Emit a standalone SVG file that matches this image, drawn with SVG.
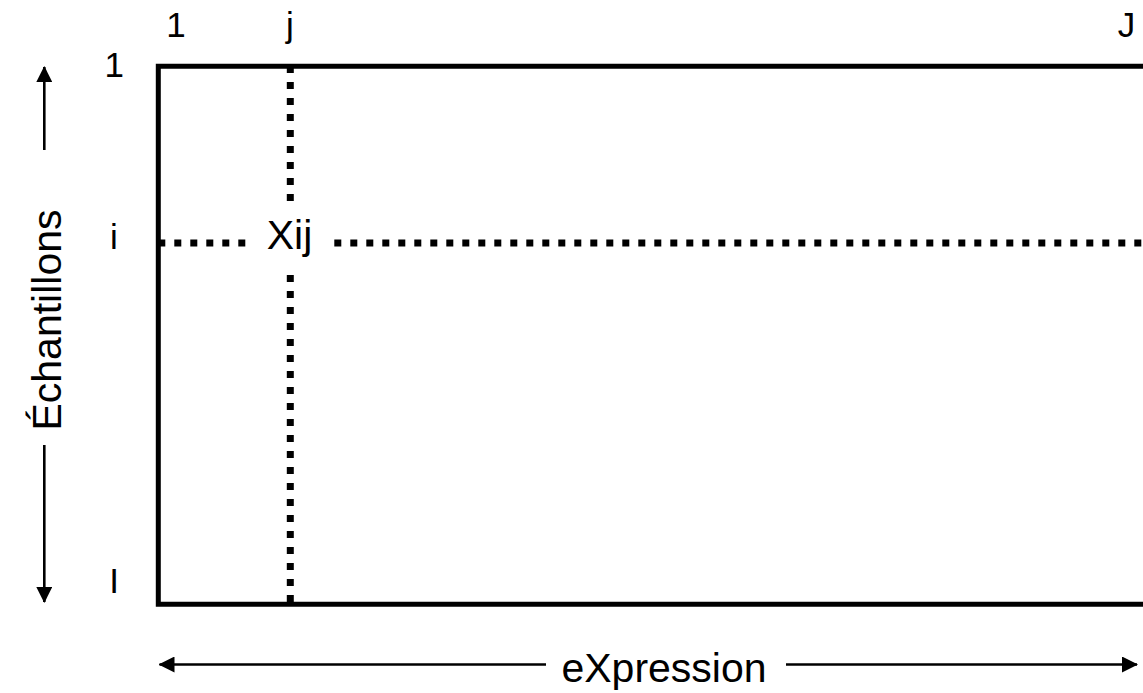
<svg xmlns="http://www.w3.org/2000/svg" width="1143" height="693" viewBox="0 0 1143 693">
  <defs>
    <style>
      .lbl { font-family: "Liberation Sans", Arial, sans-serif; font-size: 35px; fill: #000; text-anchor: middle; }
      .big { font-family: "Liberation Sans", Arial, sans-serif; font-size: 41px; fill: #000; text-anchor: middle; }
      .dot { stroke: #000; stroke-width: 7; stroke-dasharray: 7 9; fill: none; }
      .axis { stroke: #000; stroke-width: 2.6; fill: none; }
    </style>
    <marker id="ah" viewBox="0 0 16 16" refX="15" refY="8" markerWidth="16" markerHeight="16" markerUnits="userSpaceOnUse" orient="auto">
      <path d="M0,0 L16,8 L0,16 Z" fill="#000"/>
    </marker>
  </defs>
  <rect width="1143" height="693" fill="#fff"/>

  <g id="matrix">
    <path d="M1150,66.3 H158.3 V604.3 H1150" fill="none" stroke="#000" stroke-width="5"/>
  </g>

  <g id="grid-lines">
    <line class="dot" x1="290.3" y1="66" x2="290.3" y2="202"/>
    <line class="dot" x1="290.3" y1="275" x2="290.3" y2="604"/>
    <line class="dot" x1="158.3" y1="243" x2="247" y2="243"/>
    <line class="dot" x1="334.3" y1="243" x2="1150" y2="243"/>
  </g>

  <g id="cell">
    <text class="big" x="289.5" y="248.5">Xij</text>
  </g>

  <g id="col-labels">
    <text class="lbl" x="176" y="37">1</text>
    <text class="lbl" x="290" y="37">j</text>
    <text class="lbl" x="1126.5" y="37">J</text>
  </g>

  <g id="row-labels">
    <text class="lbl" x="114.3" y="77">1</text>
    <text class="lbl" x="114" y="249">i</text>
    <text class="lbl" x="114" y="593">I</text>
  </g>

  <g id="connectors">
    <line class="axis" x1="44.3" y1="150" x2="44.3" y2="67" marker-end="url(#ah)"/>
    <line class="axis" x1="44.3" y1="445" x2="44.3" y2="602" marker-end="url(#ah)"/>
    <line class="axis" x1="546" y1="664.5" x2="159.5" y2="664.5" marker-end="url(#ah)"/>
    <line class="axis" x1="786" y1="664.5" x2="1137" y2="664.5" marker-end="url(#ah)"/>
  </g>

  <g id="axis-labels">
    <text class="big" transform="translate(60.5,320) rotate(-90)">Échantillons</text>
    <text class="big" x="664" y="681.5">eXpression</text>
  </g>
</svg>
